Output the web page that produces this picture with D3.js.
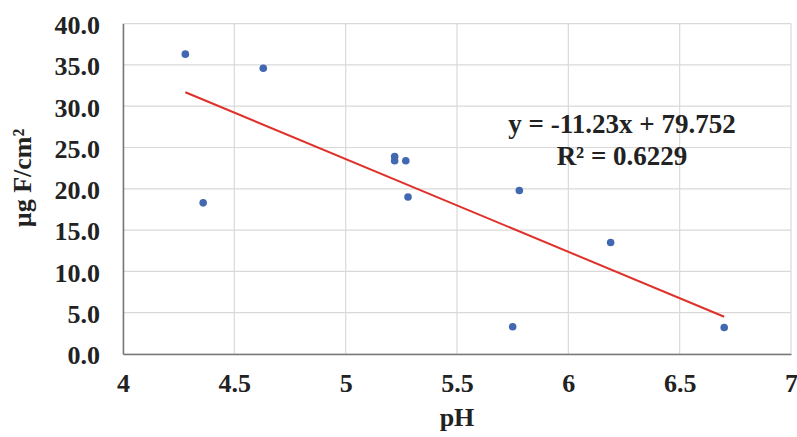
<!DOCTYPE html>
<html>
<head>
<meta charset="utf-8">
<script src="https://cdn.jsdelivr.net/npm/d3@7"></script>
<style>
  body { margin: 0; background: #fff; }
  text { font-family: "Liberation Serif", "Times New Roman", serif; font-weight: bold; fill: #222; }
</style>
</head>
<body>
<svg id="chart" width="797" height="437"></svg>
<script>
// pH readings and fluoride uptake (µg F/cm²)
var phValues = [4.28, 4.63, 4.36, 5.22, 5.22, 5.27, 5.28, 5.78, 6.19, 5.75, 6.70];
var fluoride = [36.3, 34.6, 18.3, 23.9, 23.4, 23.4, 19.0, 19.8, 13.5, 3.3, 3.2];
var xTicks = [4, 4.5, 5, 5.5, 6, 6.5, 7];
var yTicks = [0, 5, 10, 15, 20, 25, 30, 35, 40];
var slope = -11.23, intercept = 79.752, rSquared = "0.6229";

var svg = d3.select("#chart");
var margin = {left: 123, right: 6, top: 23.6, bottom: 83};
var width = 797 - margin.left - margin.right,
    height = 437 - margin.top - margin.bottom;

var x = d3.scaleLinear().domain([4, 7]).range([0, width]);
var y = d3.scaleLinear().domain([0, 40]).range([height, 0]);

var g = svg.append("g").attr("transform", "translate(" + margin.left + "," + margin.top + ")");

// gridlines
g.selectAll(".hgrid").data(yTicks).enter().append("line")
    .attr("x1", 0).attr("x2", width)
    .attr("y1", function (d) { return y(d); }).attr("y2", function (d) { return y(d); })
    .attr("stroke", "#d9d9d9").attr("stroke-width", 1.2);
g.selectAll(".vgrid").data(xTicks).enter().append("line")
    .attr("y1", 0).attr("y2", height)
    .attr("x1", function (d) { return x(d); }).attr("x2", function (d) { return x(d); })
    .attr("stroke", "#d9d9d9").attr("stroke-width", 1.2);

// axes
var xAxis = d3.axisBottom(x).tickValues(xTicks).tickSize(0).tickPadding(20)
    .tickFormat(function (d) { return String(d); });
var yAxis = d3.axisLeft(y).tickValues(yTicks).tickSize(0).tickPadding(23)
    .tickFormat(d3.format(".1f"));

var gx = g.append("g").attr("transform", "translate(0," + height + ")").call(xAxis);
var gy = g.append("g").call(yAxis);
[gx, gy].forEach(function (a) {
    a.select(".domain").attr("stroke", "#777").attr("stroke-width", 1.5);
    a.selectAll("text").style("font-size", "26px").attr("fill", "#222");
});
gy.selectAll("text").attr("dy", "0.38em");
gx.selectAll("text").attr("dy", "0.7em");

// trendline across the data range
var xr = d3.extent(phValues);
g.append("line")
    .attr("x1", x(xr[0])).attr("y1", y(slope * xr[0] + intercept))
    .attr("x2", x(xr[1])).attr("y2", y(slope * xr[1] + intercept))
    .attr("stroke", "#e0302a").attr("stroke-width", 2);

// points
g.selectAll(".dot").data(phValues).enter().append("circle")
    .attr("cx", function (d) { return x(d); })
    .attr("cy", function (d, i) { return y(fluoride[i]); })
    .attr("r", 3.8)
    .attr("fill", "#4168b0");

// equation
var eq = g.append("text").attr("text-anchor", "middle").style("font-size", "27px")
    .attr("x", 622 - margin.left).attr("y", 133 - margin.top);
eq.append("tspan").attr("x", 622 - margin.left).text("y = " + slope + "x + " + intercept);
eq.append("tspan").attr("x", 622 - margin.left).attr("dy", 32).text("R\u00b2 = " + rSquared);

// axis titles
svg.append("text").attr("text-anchor", "middle").style("font-size", "26px")
    .attr("x", margin.left + width / 2).attr("y", 426).text("pH");
svg.append("text").attr("text-anchor", "middle").style("font-size", "26px")
    .attr("transform", "translate(31,178) rotate(-90)")
    .text("\u00b5g F/cm\u00b2");
</script>
</body>
</html>
